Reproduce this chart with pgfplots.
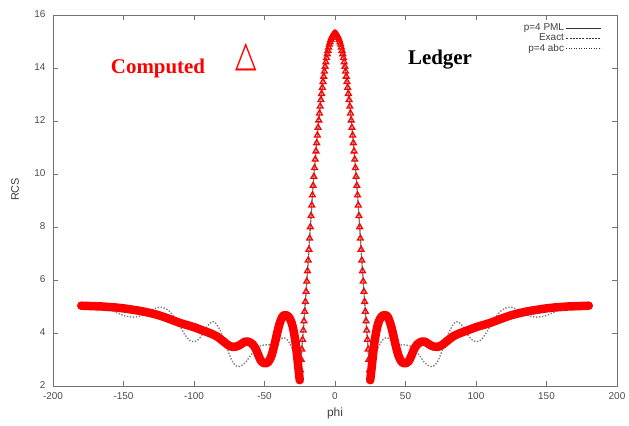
\documentclass[border=0pt]{standalone}
\usepackage{fontspec}
\setmainfont{Liberation Sans}
\newfontfamily\serif{Liberation Serif}
\newfontfamily\dejavu{DejaVu Sans}
\usepackage{pgfplots}
\usepackage{pgfplotstable}
\pgfplotsset{compat=1.18}

% main lobe, sampled densely (red triangles)
\pgfplotstableread{
x y
-25 2.22
-24.5 2.60
-24 3.00
-23.5 3.38
-23 3.75
-22.5 4.10
-22 4.45
-21.5 4.81
-21 5.18
-20.5 5.56
-20 5.95
-19.5 6.34
-19 6.74
-18.5 7.15
-18 7.57
-17.5 8.00
-17 8.42
-16.5 8.82
-16 9.20
-15.5 9.56
-15 9.90
-14.5 10.23
-14 10.55
-13.5 10.86
-13 11.17
-12.5 11.46
-12 11.75
-11.5 12.03
-11 12.29
-10.5 12.55
-10 12.80
-9.5 13.03
-9 13.26
-8.5 13.48
-8 13.68
-7.5 13.87
-7 14.05
-6.5 14.22
-6 14.38
-5.5 14.53
-5 14.66
-4.5 14.78
-4 14.89
-3.5 14.98
-3 15.07
-2.5 15.14
-2 15.20
-1.5 15.24
-1 15.27
-0.5 15.29
0 15.30
0.5 15.29
1 15.27
1.5 15.24
2 15.20
2.5 15.14
3 15.07
3.5 14.98
4 14.89
4.5 14.78
5 14.66
5.5 14.53
6 14.38
6.5 14.22
7 14.05
7.5 13.87
8 13.68
8.5 13.48
9 13.26
9.5 13.03
10 12.80
10.5 12.55
11 12.29
11.5 12.03
12 11.75
12.5 11.46
13 11.17
13.5 10.86
14 10.55
14.5 10.23
15 9.90
15.5 9.56
16 9.20
16.5 8.82
17 8.42
17.5 8.00
18 7.57
18.5 7.15
19 6.74
19.5 6.34
20 5.95
20.5 5.56
21 5.18
21.5 4.81
22 4.45
22.5 4.10
23 3.75
23.5 3.38
24 3.00
24.5 2.60
25 2.22
}\lobe

\pgfplotstableread{
x y
-180 5.03
-175 5.02
-170 5.01
-165 5.00
-160 4.98
-155 4.96
-150 4.93
-145 4.89
-140 4.85
-135 4.80
-130 4.74
-125 4.67
-120 4.58
-115 4.48
-110 4.38
-105 4.30
-100 4.22
-96 4.14
-92 4.06
-88 3.98
-84 3.88
-80 3.72
-76 3.55
-73 3.48
-70 3.49
-68 3.53
-66 3.60
-64 3.67
-62 3.68
-60 3.64
-58 3.55
-56 3.38
-55 3.25
-54 3.12
-53 3.00
-52 2.92
-50.5 2.86
-49 2.86
-48 2.88
-47 2.93
-46 3.02
-45 3.15
-44 3.33
-43 3.54
-42 3.77
-41 4.00
-40 4.22
-39 4.40
-38 4.54
-37 4.64
-35.5 4.68
-34 4.66
-33 4.62
-32 4.54
-31 4.42
-30 4.24
-29 3.98
-28 3.65
-27 3.20
-26 2.70
-25 2.22
}\flankL

\pgfplotstableread{
x y
25 2.22
26 2.70
27 3.20
28 3.65
29 3.98
30 4.24
31 4.42
32 4.54
33 4.62
34 4.66
35.5 4.68
37 4.64
38 4.54
39 4.40
40 4.22
41 4.00
42 3.77
43 3.54
44 3.33
45 3.15
46 3.02
47 2.93
48 2.88
49 2.86
50.5 2.86
52 2.92
53 3.00
54 3.12
55 3.25
56 3.38
58 3.55
60 3.64
62 3.68
64 3.67
66 3.60
68 3.53
70 3.49
73 3.48
76 3.55
80 3.72
84 3.88
88 3.98
92 4.06
96 4.14
100 4.22
105 4.30
110 4.38
115 4.48
120 4.58
125 4.67
130 4.74
135 4.80
140 4.85
145 4.89
150 4.93
155 4.96
160 4.98
165 5.00
170 5.01
175 5.02
180 5.03
}\flankR

% p=4 abc
\pgfplotstableread{
x y
-180 5.13
-175 5.11
-170 5.07
-164 4.98
-158 4.85
-152 4.70
-148 4.63
-144 4.60
-140 4.61
-136 4.68
-132 4.80
-128 4.92
-125 4.97
-122 4.96
-118 4.85
-114 4.60
-110 4.25
-106 3.90
-103 3.72
-100 3.67
-97 3.75
-94 3.95
-91 4.22
-88 4.40
-86 4.43
-84 4.33
-81 4.05
-78 3.65
-75 3.20
-72 2.85
-69 2.73
-66 2.78
-63 2.92
-60 3.15
-57 3.35
-54 3.50
-50 3.55
-46 3.55
-43 3.60
-40 3.72
-38 3.80
-36 3.82
-34 3.75
-32 3.60
-30 3.35
-28 3.00
-26 2.50
-25 2.30
-24 3.00
-22 4.45
-20 5.95
-18 7.57
-15 9.90
-12 11.75
-9 13.26
-6 14.38
-3 15.07
0 15.30
3 15.07
6 14.38
9 13.26
12 11.75
15 9.90
18 7.57
20 5.95
22 4.45
24 3.00
25 2.30
26 2.50
28 3.00
30 3.35
32 3.60
34 3.75
36 3.82
38 3.80
40 3.72
43 3.60
46 3.55
50 3.55
54 3.50
57 3.35
60 3.15
63 2.92
66 2.78
69 2.73
72 2.85
75 3.20
78 3.65
81 4.05
84 4.33
86 4.43
88 4.40
91 4.22
94 3.95
97 3.75
100 3.67
103 3.72
106 3.90
110 4.25
114 4.60
118 4.85
122 4.96
125 4.97
128 4.92
132 4.80
136 4.68
140 4.61
144 4.60
148 4.63
152 4.70
158 4.85
164 4.98
170 5.07
175 5.11
180 5.13
}\abc

\begin{document}
\begin{tikzpicture}
\begin{axis}[
  name=ax,
  scale only axis,
  width=564bp, height=371bp,
  xmin=-200, xmax=200, ymin=2, ymax=16,
  xtick distance=50, ytick distance=2,
  tick align=inside,
  major tick length=5bp,
  axis line style={black!55, line width=0.8bp},
  every tick/.style={black!55, line width=0.8bp},
  /pgf/number format/assume math mode=true,
  tick label style={font=\fontsize{10}{12}\selectfont, text=black!70},
  xticklabel style={yshift=-3bp},
  yticklabel style={xshift=-4bp, yshift=1bp},
  xlabel={phi}, ylabel={RCS},
  x label style={font=\fontsize{12}{14}\selectfont, text=black!75,
    at={(axis description cs:0.5,-0.05)}, anchor=north},
  y label style={font=\fontsize{11}{13}\selectfont, text=black!75,
    at={(axis description cs:-0.067,0.53)}, anchor=center},
  legend plot pos=right,
  legend cell align=right,
  legend image code/.code={\draw[#1] (0bp,0bp) -- (35bp,0bp);},
  legend style={draw=none, fill=none, at={(0.975,0.985)}, anchor=north east,
    font=\fontsize{10}{11}\selectfont, text=black!75, row sep=-2pt,
    inner sep=1pt},
  clip=false,
]
\addlegendimage{black!80, line width=0.7bp}
\addlegendentry{p=4 PML}
\addlegendimage{black!80, line width=0.7bp, dash pattern=on 2bp off 1.2bp}
\addlegendentry{Exact}
\addlegendimage{black!80, line width=0.7bp, dash pattern=on 1bp off 1.5bp}
\addlegendentry{p=4 abc}

% p=4 abc (dotted)
\addplot[black!50, line width=1.4bp, dash pattern=on 1.4bp off 1.6bp, smooth, tension=0.4, forget plot] table[x=x,y=y]{\abc};
% p=4 PML / Exact (thin lines)
\addplot[black!55, line width=0.8bp, forget plot] table[x=x,y=y]{\lobe};
\addplot[black!55, line width=0.8bp, dashed, forget plot] table[x=x,y=y]{\lobe};
% Computed: thick red band on the flanks, triangles on the main lobe
\addplot[red, line width=8.5bp, line join=round, line cap=round, smooth, tension=0.3, forget plot] table[x=x,y=y]{\flankL};
\addplot[red, line width=8.5bp, line join=round, line cap=round, smooth, tension=0.3, forget plot] table[x=x,y=y]{\flankR};
\addplot[red, only marks, mark=triangle, mark size=3.3bp, mark options={line width=1.3bp, fill=none}, forget plot] table[x=x,y=y]{\lobe};

\node[text=red, font=\serif\bfseries\fontsize{21}{24}\selectfont] at (axis cs:-125.5,14.0) {Computed};
\node[text=red, font=\dejavu\fontsize{28}{30}\selectfont, inner sep=0pt] at (axis cs:-63,14.4) {\scalebox{1}[1.3]{△}};
\node[text=black, font=\serif\bfseries\fontsize{21}{24}\selectfont] at (axis cs:74.5,14.3) {Ledger};
\end{axis}
\pgfresetboundingbox
\path ([shift={(-53bp,-40bp)}]ax.south west) rectangle ([shift={(12bp,15bp)}]ax.north east);
\end{tikzpicture}
\end{document}
